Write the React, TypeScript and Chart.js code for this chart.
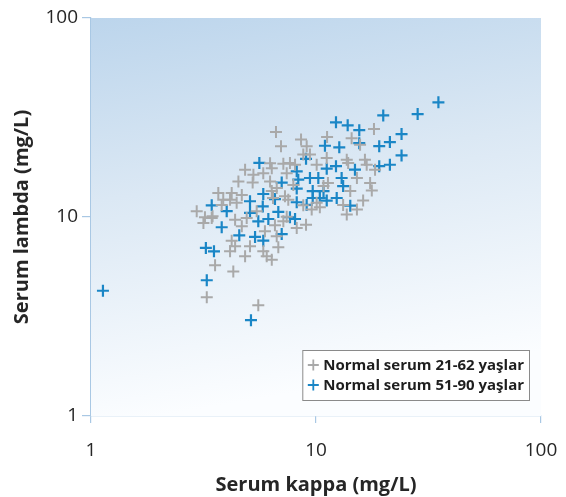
import React, { useEffect, useRef } from "react";
import { Chart, registerables } from "chart.js";

Chart.register(...registerables);

const xTicks = [1, 10, 100];
const yTicks = [1, 10, 100];

const seriesLabels = ["Normal serum 21-62 yaşlar", "Normal serum 51-90 yaşlar"];

// Normal serum 21-62 (gray): [kappa, lambda]
const grayKappa = [6.64, 6.99, 8.58, 9.09, 11.2, 11.16, 18.1, 14.4, 15.7, 8.78, 8.07, 7.16, 6.36, 4.84, 5.27, 5.83, 4.52, 5.23, 6.25, 7.41, 13.9, 16.5, 16.8, 18.3, 15.2, 17.4, 17.7, 14.2, 11.3, 3.68, 4.22, 4.68, 4.15, 4.44, 3.81, 2.95, 3.21, 3.44, 3.16, 4.37, 4.68, 4.92, 6.57, 7.16, 7.28, 7.53, 6.36, 6.69, 9.03, 8.21, 8.78, 9.57, 10.4, 13.2, 16.2, 15.2, 13.7, 4.22, 5.09, 4.15, 4.84, 5.83, 6.04, 6.36, 6.8, 4.37, 3.56, 4.29, 3.27, 5.54, 5.45, 5.93, 6.69, 7.66, 7.93, 10.07, 10.8, 10.07, 13.7, 9.4, 3.87, 3.47, 6.44, 7.41, 6.25];
const grayLambda = [26.7, 22.7, 24.5, 22.7, 25.2, 19.8, 27.7, 24.9, 23.1, 20.6, 18.3, 18.5, 17.6, 17.3, 16.3, 16.6, 15.1, 14.9, 15.1, 16.6, 18.7, 19.4, 18.3, 17.3, 15.7, 14.8, 13.6, 13.5, 14.8, 13.2, 13.2, 12.9, 12.2, 11.8, 11.5, 10.7, 9.97, 9.89, 9.33, 9.69, 8.98, 9.89, 9.08, 9.51, 12.7, 12.2, 13.5, 14.0, 9.15, 8.81, 11.45, 10.9, 11.2, 11.5, 12.1, 10.9, 10.3, 7.6, 7.13, 6.72, 6.35, 6.72, 6.35, 6.1, 7.04, 7.13, 5.72, 5.33, 3.95, 3.6, 10.7, 8.48, 8.0, 18.7, 14.5, 18.3, 14.3, 11.8, 19.4, 20.6, 12.2, 10.1, 12.46, 10.03, 18.6];

// Normal serum 51-90 (blue): [kappa, lambda]
const blueKappa = [1.13, 35.0, 28.3, 19.9, 12.27, 13.83, 15.57, 15.57, 24.0, 21.3, 19.1, 10.96, 12.69, 24.0, 21.3, 19.1, 9.03, 5.6, 11.16, 12.27, 14.9, 8.21, 8.34, 9.4, 10.24, 13.0, 7.04, 8.21, 13.2, 9.67, 10.8, 5.83, 9.67, 10.4, 12.36, 5.09, 6.57, 8.21, 9.09, 11.16, 3.44, 5.8, 14.2, 4.01, 5.09, 6.8, 7.66, 8.07, 5.54, 6.14, 3.81, 4.56, 7.04, 5.36, 5.83, 3.24, 3.52, 3.27, 5.14];
const blueLambda = [4.26, 37.7, 32.9, 32.4, 29.9, 28.9, 27.3, 23.5, 26.1, 23.8, 22.7, 22.8, 22.4, 20.4, 18.3, 18.0, 19.6, 18.7, 17.5, 18.0, 17.3, 16.97, 15.4, 15.7, 15.7, 15.7, 14.9, 13.9, 14.3, 13.5, 13.5, 13.05, 12.46, 12.46, 12.46, 12.0, 12.3, 11.86, 11.5, 12.1, 11.45, 11.3, 11.4, 10.7, 10.5, 10.6, 9.97, 9.77, 9.51, 9.77, 8.88, 8.09, 8.21, 7.94, 7.6, 6.99, 6.72, 4.81, 3.03];

const GRAY = "#a9a9a9";
const BLUE = "#1a86c6";
const FONT = "'Open Sans', 'Noto Sans', sans-serif";

const toPoints = (xs: number[], ys: number[]) => xs.map((x, i) => ({ x, y: ys[i] }));

const bgPlugin = {
  id: "bgGradient",
  beforeDatasetsDraw(chart: any) {
    const { ctx, chartArea } = chart;
    const { left, top, right, bottom } = chartArea;
    const g = ctx.createLinearGradient(left, top, left + (right - left) * 0.15, bottom);
    g.addColorStop(0, "#bcd5ec");
    g.addColorStop(0.45, "#dbe8f4");
    g.addColorStop(1, "#fbfdff");
    ctx.save();
    ctx.fillStyle = g;
    ctx.fillRect(left, top, right - left, bottom - top);
    ctx.restore();
  },
};

const legendPlugin = {
  id: "insideLegend",
  afterDatasetsDraw(chart: any) {
    const { ctx, chartArea } = chart;
    const ds = chart.data.datasets;
    ctx.save();
    ctx.font = `bold 15px ${FONT}`;
    let maxW = 0;
    ds.forEach((d: any) => {
      maxW = Math.max(maxW, ctx.measureText(d.label).width);
    });
    const lineH = 20;
    const boxW = maxW + 26;
    const boxH = ds.length * lineH + 10;
    const x1 = chartArea.right - 12 - boxW;
    const y1 = chartArea.bottom - 16 - boxH;
    ctx.fillStyle = "#ffffff";
    ctx.fillRect(x1, y1, boxW, boxH);
    ctx.strokeStyle = "#8a8a8a";
    ctx.lineWidth = 1;
    ctx.strokeRect(x1 + 0.5, y1 + 0.5, boxW, boxH);
    ds.forEach((d: any, i: number) => {
      const cy = y1 + 5 + lineH * i + lineH / 2;
      const cx = x1 + 11;
      ctx.strokeStyle = d.borderColor;
      ctx.lineWidth = 1.8;
      ctx.beginPath();
      ctx.moveTo(cx - 5.5, cy);
      ctx.lineTo(cx + 5.5, cy);
      ctx.moveTo(cx, cy - 5.5);
      ctx.lineTo(cx, cy + 5.5);
      ctx.stroke();
      ctx.fillStyle = "#1e1e1e";
      ctx.textBaseline = "middle";
      ctx.textAlign = "left";
      ctx.fillText(d.label, x1 + 21, cy + 0.5);
    });
    ctx.restore();
  },
};

export default function App() {
  const ref = useRef<HTMLCanvasElement | null>(null);

  useEffect(() => {
    if (!ref.current) return;
    const chart = new Chart(ref.current, {
      type: "scatter",
      data: {
        datasets: [
          {
            label: seriesLabels[0],
            data: toPoints(grayKappa, grayLambda),
            pointStyle: "cross",
            pointRadius: 6,
            borderWidth: 2,
            borderColor: GRAY,
            backgroundColor: GRAY,
          },
          {
            label: seriesLabels[1],
            data: toPoints(blueKappa, blueLambda),
            pointStyle: "cross",
            pointRadius: 6,
            borderWidth: 2.2,
            borderColor: BLUE,
            backgroundColor: BLUE,
          },
        ],
      },
      options: {
        animation: false,
        responsive: false,
        maintainAspectRatio: false,
        events: [],
        layout: { padding: { top: 18, right: 25, left: 0, bottom: 0 } },
        plugins: {
          legend: { display: false },
          tooltip: { enabled: false },
        },
        scales: {
          x: {
            type: "logarithmic",
            min: 1,
            max: 100,
            afterBuildTicks: (s: any) => {
              s.ticks = xTicks.map((v) => ({ value: v }));
            },
            afterFit: (s: any) => {
              s.height = 81;
              s.paddingLeft = 0;
              s.paddingRight = 0;
            },
            ticks: {
              callback: (v: any) => String(v),
              color: "#262626",
              font: { family: FONT, size: 19 },
              padding: 16,
              maxRotation: 0,
            },
            grid: {
              drawOnChartArea: false,
              drawTicks: true,
              tickLength: 7,
              color: "#a9c8e4",
              lineWidth: 1.2,
            },
            border: { color: "#a9c8e4", width: 1.2 },
            title: {
              display: true,
              text: "Serum kappa (mg/L)",
              color: "#262626",
              font: { family: FONT, size: 20, weight: "bold" },
              padding: { top: 0, bottom: 0 },
            },
          },
          y: {
            type: "logarithmic",
            min: 1,
            max: 100,
            afterBuildTicks: (s: any) => {
              s.ticks = yTicks.map((v) => ({ value: v }));
            },
            afterFit: (s: any) => {
              s.width = 91;
              s.paddingTop = 0;
              s.paddingBottom = 0;
            },
            ticks: {
              callback: (v: any) => String(v),
              color: "#262626",
              font: { family: FONT, size: 19 },
              padding: 4,
            },
            grid: {
              drawOnChartArea: false,
              drawTicks: true,
              tickLength: 9,
              color: "#a9c8e4",
              lineWidth: 1.2,
            },
            border: { color: "#a9c8e4", width: 1.2 },
            title: {
              display: true,
              text: "Serum lambda (mg/L)",
              color: "#262626",
              font: { family: FONT, size: 20, weight: "bold" },
              padding: { top: 10, bottom: 0 },
            },
          },
        },
      },
      plugins: [bgPlugin, legendPlugin],
    });
    return () => chart.destroy();
  }, []);

  return (
    <div style={{ position: "fixed", left: 0, top: 0, width: 566, height: 497, background: "#ffffff" }}>
      <canvas ref={ref} width={566} height={497} style={{ width: 566, height: 497, display: "block" }} />
    </div>
  );
}
